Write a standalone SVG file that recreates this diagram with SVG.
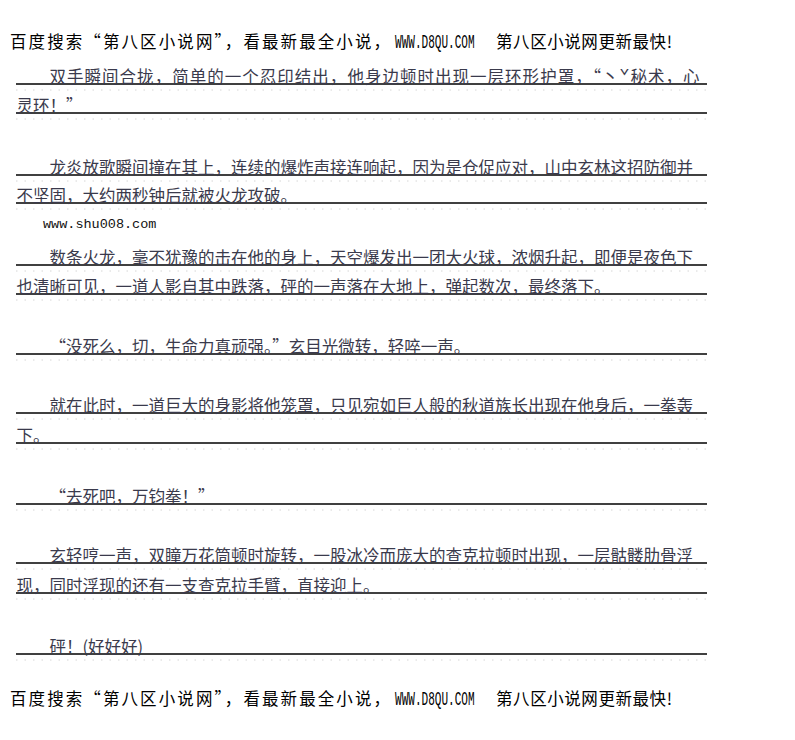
<svg xmlns="http://www.w3.org/2000/svg" width="795" height="740" viewBox="0 0 795 740">
<style>
.hdr{font-family:"Noto Sans CJK SC","Liberation Sans",sans-serif;font-size:16.5px;fill:#000}
.lat{font-family:"Liberation Mono",monospace;font-size:21px;fill:#000}
.b{font-family:"Noto Sans CJK SC","Liberation Sans",sans-serif;font-size:16.5px;fill:#3a3a4c}
.url{font-family:"Liberation Mono",monospace;font-size:13.5px;fill:#111}
.rule{stroke:#000;stroke-width:1.3}
.dots{stroke:#d6d6d6;stroke-width:1;stroke-dasharray:1.5 7}
</style>
<rect width="795" height="740" fill="#fff"/>
<g id="header">
<text class="hdr" x="10" y="48" textLength="380">百度搜索“第八区小说网”，看最新最全小说，</text>
<text class="lat" transform="translate(395,48) scale(0.527,1)" x="0" y="0">WWW.D8QU.COM</text>
<text class="hdr" x="496" y="48" textLength="176">第八区小说网更新最快!</text>
</g>
<g id="rules">
<line class="rule" x1="16" y1="84" x2="707" y2="84"/><line class="dots" x1="16" y1="90" x2="707" y2="90"/>
<line class="rule" x1="16" y1="113" x2="707" y2="113"/><line class="dots" x1="16" y1="119" x2="707" y2="119"/>
<line class="rule" x1="16" y1="175" x2="707" y2="175"/><line class="dots" x1="16" y1="181" x2="707" y2="181"/>
<line class="rule" x1="16" y1="203" x2="707" y2="203"/><line class="dots" x1="16" y1="209" x2="707" y2="209"/>
<line class="rule" x1="16" y1="265" x2="707" y2="265"/><line class="dots" x1="16" y1="271" x2="707" y2="271"/>
<line class="rule" x1="16" y1="294" x2="707" y2="294"/><line class="dots" x1="16" y1="300" x2="707" y2="300"/>
<line class="rule" x1="16" y1="354" x2="707" y2="354"/><line class="dots" x1="16" y1="360" x2="707" y2="360"/>
<line class="rule" x1="16" y1="413" x2="707" y2="413"/><line class="dots" x1="16" y1="419" x2="707" y2="419"/>
<line class="rule" x1="16" y1="443" x2="707" y2="443"/><line class="dots" x1="16" y1="449" x2="707" y2="449"/>
<line class="rule" x1="16" y1="504" x2="707" y2="504"/><line class="dots" x1="16" y1="510" x2="707" y2="510"/>
<line class="rule" x1="16" y1="563" x2="707" y2="563"/><line class="dots" x1="16" y1="569" x2="707" y2="569"/>
<line class="rule" x1="16" y1="593" x2="707" y2="593"/><line class="dots" x1="16" y1="599" x2="707" y2="599"/>
<line class="rule" x1="16" y1="654" x2="707" y2="654"/><line class="dots" x1="16" y1="660" x2="707" y2="660"/>
</g>
<g id="p1">
<text class="b" x="49.5" y="82.5" textLength="650">双手瞬间合拢，简单的一个忍印结出，他身边顿时出现一层环形护罩，“丶ˇ秘术，心</text>
<text class="b" x="16.5" y="111.5">灵环！”</text>
</g>
<g id="p2">
<text class="b" x="49.5" y="173.5" textLength="643.5">龙炎放歌瞬间撞在其上，连续的爆炸声接连响起，因为是仓促应对，山中玄林这招防御并</text>
<text class="b" x="16.5" y="201.5">不坚固，大约两秒钟后就被火龙攻破。</text>
</g>
<g id="url"><text class="url" x="43" y="228">www.shu008.com</text></g>
<g id="p3">
<text class="b" x="49.5" y="263.5" textLength="643.5">数条火龙，毫不犹豫的击在他的身上，天空爆发出一团大火球，浓烟升起，即便是夜色下</text>
<text class="b" x="16.5" y="292.5">也清晰可见，一道人影自其中跌落，砰的一声落在大地上，弹起数次，最终落下。</text>
</g>
<g id="p4"><text class="b" x="49.5" y="352.5">“没死么，切，生命力真顽强。”玄目光微转，轻啐一声。</text></g>
<g id="p5">
<text class="b" x="49.5" y="411.5" textLength="643.5">就在此时，一道巨大的身影将他笼罩，只见宛如巨人般的秋道族长出现在他身后，一拳轰</text>
<text class="b" x="16.5" y="441.5">下。</text>
</g>
<g id="p6"><text class="b" x="49.5" y="502.5">“去死吧，万钧拳！”</text></g>
<g id="p7">
<text class="b" x="49.5" y="561.5" textLength="643.5">玄轻哼一声，双瞳万花筒顿时旋转，一股冰冷而庞大的查克拉顿时出现，一层骷髅肋骨浮</text>
<text class="b" x="16.5" y="591.5">现，同时浮现的还有一支查克拉手臂，直接迎上。</text>
</g>
<g id="p8"><text class="b" x="49.5" y="652.5">砰！(好好好)</text></g>
<g id="footer">
<text class="hdr" x="10" y="705" textLength="380">百度搜索“第八区小说网”，看最新最全小说，</text>
<text class="lat" transform="translate(395,705) scale(0.527,1)" x="0" y="0">WWW.D8QU.COM</text>
<text class="hdr" x="496" y="705" textLength="176">第八区小说网更新最快!</text>
</g>
</svg>
